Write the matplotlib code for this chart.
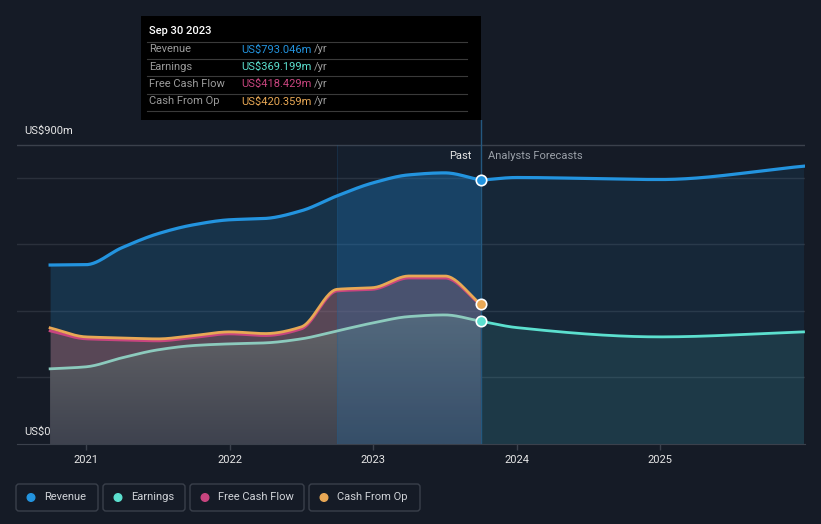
import numpy as np
import matplotlib
matplotlib.use('Agg')
from matplotlib import pyplot as plt
from matplotlib.patches import FancyBboxPatch, Rectangle, Circle

plt.rcParams['font.family'] = ['Roboto', 'DejaVu Sans']

# quarter ends as decimal years, Sep 2020 .. Sep 2023 (US$ m, trailing 12 months)
past_t = [2020.75, 2021.0, 2021.25, 2021.5, 2021.75, 2022.0, 2022.25,
          2022.5, 2022.75, 2023.0, 2023.25, 2023.5, 2023.75]
revenue_past = [538, 539, 590, 632, 659, 674, 678, 701, 746, 785, 809, 815, 793.046]
earnings_past = [226, 232, 259, 283, 296, 301, 304, 316, 340, 364, 383, 388, 369.199]
fcf_past = [340, 316, 313, 310, 320, 331, 326, 346, 460, 465, 499, 499, 418.429]
cfo_past = [349, 322, 319, 316, 326, 337, 332, 352, 465, 470, 505, 505, 420.359]

# analyst forecasts
fc_t = [2023.75, 2024.0, 2025.0, 2026.0]
revenue_fc = [793.046, 801, 795, 835]
earnings_fc = [369.199, 350, 322, 337]

year_ticks = [2021, 2022, 2023, 2024, 2025]
tooltip_rows = [('Revenue', 'US$793.046m', '#2394df'),
                ('Earnings', 'US$369.199m', '#5ce0cf'),
                ('Free Cash Flow', 'US$418.429m', '#c8457f'),
                ('Cash From Op', 'US$420.359m', '#e8a855')]

BG = '#151b26'
C_REV = '#2394df'
C_EARN = '#5ce0cf'
C_EARN_PAST = '#8ccabd'
C_FCF = '#c8457f'
C_CFO = '#e8a855'
W, H = 821, 524


def smooth(x, y, n=300):
    # monotone cubic (pchip) curve through the points, only for drawing
    x = np.asarray(x, float)
    y = np.asarray(y, float)
    h = np.diff(x)
    d = np.diff(y) / h
    m = np.zeros_like(y)
    for k in range(1, len(y) - 1):
        if d[k - 1] * d[k] > 0:
            w1 = 2 * h[k] + h[k - 1]
            w2 = h[k] + 2 * h[k - 1]
            m[k] = (w1 + w2) / (w1 / d[k - 1] + w2 / d[k])
    m[0], m[-1] = d[0], d[-1]
    xs = np.linspace(x[0], x[-1], n)
    i = np.clip(np.searchsorted(x, xs) - 1, 0, len(h) - 1)
    t = (xs - x[i]) / h[i]
    ys = ((2 * t**3 - 3 * t**2 + 1) * y[i] + (t**3 - 2 * t**2 + t) * h[i] * m[i]
          + (-2 * t**3 + 3 * t**2) * y[i + 1] + (t**3 - t**2) * h[i] * m[i + 1])
    return xs, ys


fig = plt.figure(figsize=(W / 100, H / 100), dpi=100, facecolor=BG)

# main axes: x 17..805 px, y 120..444 px
ax = fig.add_axes([17 / W, 1 - 444 / H, 788 / W, 324 / H])
ax.set_facecolor(BG)
ax.set_xlim(2021 - 69 / 143.5, 2021 + 719 / 143.5)
ax.set_ylim(0, 324 / 0.33267)

for v in [200, 400, 600, 800]:
    ax.axhline(v, color='#2a303b', lw=1, zorder=0)
ax.axhline(900, color='#3b414c', lw=1, zorder=0)

xr, yr = smooth(past_t, revenue_past)
xe, ye = smooth(past_t, earnings_past)
xf, yf = smooth(past_t, fcf_past)
xc, yc = smooth(past_t, cfo_past)
xrf, yrf = smooth(fc_t, revenue_fc)
xef, yef = smooth(fc_t, earnings_fc)

# past fills
rev_poly = ax.fill_between(xr, 0, yr, color=C_REV, alpha=0.2, lw=0, zorder=1)
ax.fill_between(xc, 0, yc, color='#d26e6e', alpha=0.35, lw=0, zorder=2)
earn_poly = ax.fill_between(xe, 0, ye, color='none', lw=0, zorder=3)
grad = np.zeros((100, 2, 4))
top = np.array([102, 102, 106]) / 255
bot = np.array([62, 66, 78]) / 255
for k in range(100):
    f = k / 99
    grad[k, :, :3] = top * (1 - f) + bot * f
    grad[k, :, 3] = 1.0
im = ax.imshow(grad, extent=[past_t[0], past_t[-1], 0, 400], aspect='auto',
               origin='upper', zorder=3)
im.set_clip_path(earn_poly.get_paths()[0], transform=ax.transData)

# forecast fills
ax.fill_between(xrf, 0, yrf, color=C_REV, alpha=0.1, lw=0, zorder=1)
ax.fill_between(xef, 0, yef, color=C_EARN, alpha=0.1, lw=0, zorder=2)

# last-year highlight band
band = Rectangle((2022.75, 0), 1.0, 900, color='#1e78c0', alpha=0.2, lw=0, zorder=4)
ax.add_patch(band)
band.set_clip_path(rev_poly.get_paths()[0], transform=ax.transData)
ax.add_patch(Rectangle((2022.75, 0), 1.0, 900, color='#1e78c0', alpha=0.05, lw=0, zorder=4))
ax.plot([2022.75, 2022.75], [0, 900], color='#1e5a88', lw=0.8, alpha=0.25, zorder=4)
ax.axvline(2023.75, color='#24587f', lw=1, zorder=4)

# lines
ax.plot(xf, yf, color=C_FCF, lw=2, zorder=5)
ax.plot(xc, yc, color=C_CFO, lw=2, zorder=6)
ax.plot(xe, ye, color=C_EARN_PAST, lw=2, zorder=6)
ax.plot(xr, yr, color=C_REV, lw=2.3, zorder=7)
ax.plot(xef, yef, color=C_EARN, lw=2, zorder=6)
ax.plot(xrf, yrf, color=C_REV, lw=2.3, zorder=7)

for val, col in [(revenue_past[-1], C_REV), (cfo_past[-1], C_CFO), (earnings_past[-1], C_EARN)]:
    ax.plot(2023.75, val, 'o', ms=7.5, color=col, mec='white', mew=1.2, zorder=9)

ax.set_xticks(year_ticks)
ax.set_xticklabels([str(y) for y in year_ticks])
ax.set_yticks([])
ax.tick_params(axis='x', colors='#3b414c', length=4, width=1, pad=4,
               labelcolor='#e6e6e6', labelsize=8)
for s in ['top', 'right', 'left']:
    ax.spines[s].set_visible(False)
ax.spines['bottom'].set_color('#3b414c')

# overlay in pixel coordinates for texts, tooltip and legend
ov = fig.add_axes([0, 0, 1, 1], facecolor='none')
ov.set_xlim(0, W)
ov.set_ylim(H, 0)
ov.axis('off')

ov.text(24, 131, 'US$900m', color='#e6e6e6', fontsize=8, va='center')
ov.text(24, 432, 'US$0', color='#e6e6e6', fontsize=8, va='center')
ov.text(472, 156, 'Past', color='#e6e6e6', fontsize=8, va='center', ha='right')
ov.text(488, 156, 'Analysts Forecasts', color='#9aa0a8', fontsize=8, va='center')

# tooltip
ov.add_patch(Rectangle((141, 16), 340, 104, color='black', lw=0))
ov.text(149, 31, 'Sep 30 2023', color='white', fontsize=8, va='center', fontweight='medium')
for yy in [41.5, 58.5, 76, 93.5, 111]:
    ov.plot([147, 467], [yy, yy], color='#3a3a3a', lw=0.8)
for k, (lab, val, col) in enumerate(tooltip_rows):
    yy = 49.5 + k * 17.3
    ov.text(149, yy, lab, color='#9b9b9b', fontsize=8, va='center')
    ov.text(241, yy, val, color=col, fontsize=8, va='center')
    ov.text(314, yy, '/yr', color='#9b9b9b', fontsize=8, va='center')

# legend
legend_items = [('Revenue', C_REV, 16, 98), ('Earnings', C_EARN, 103, 185),
                ('Free Cash Flow', C_FCF, 190, 304), ('Cash From Op', C_CFO, 309, 420)]
for lab, col, x0, x1 in legend_items:
    ov.add_patch(FancyBboxPatch((x0, 484), x1 - x0, 27, boxstyle='round,pad=0,rounding_size=3',
                                fc='none', ec='#3a404b', lw=1))
    ov.add_patch(Circle((x0 + 15, 497.5), 3.8, color=col))
    ov.text(x0 + 28, 497.5, lab, color='#d0d3d8', fontsize=8, va='center')

fig.savefig('out.png', dpi=100, facecolor=BG)
